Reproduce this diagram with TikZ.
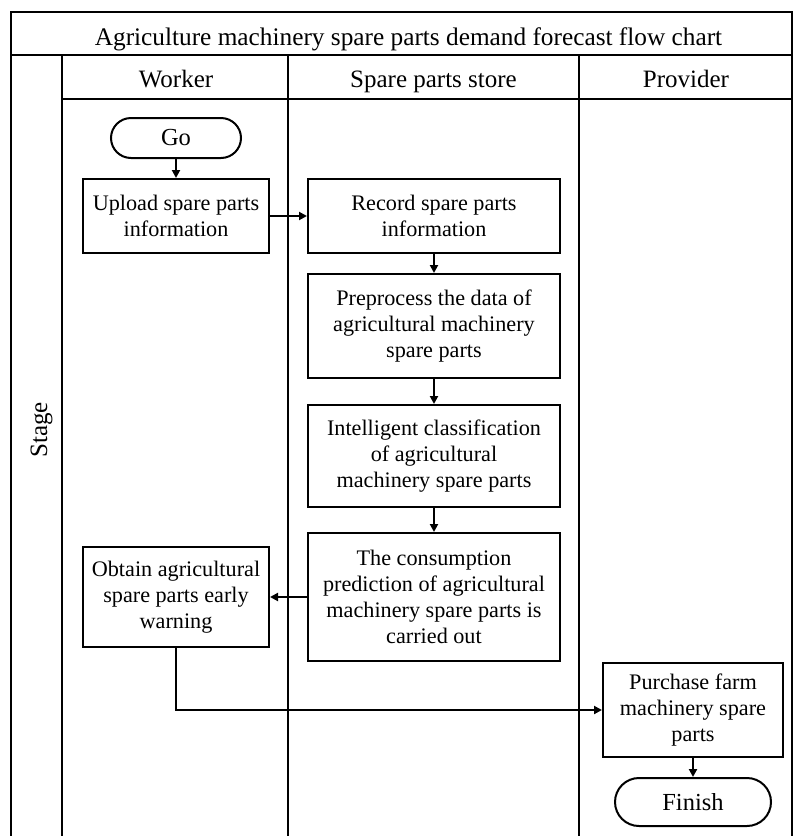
\documentclass[tikz,border=0pt]{standalone}
\usepackage{fontspec}
\setmainfont{Liberation Serif}
\usetikzlibrary{arrows.meta}
\tikzset{
  lane/.style={line width=2pt},
  procbox/.style={draw, line width=2pt, rectangle, inner sep=0pt, align=center,
    font=\fontsize{22.2}{26}\selectfont},
  termbox/.style={procbox, font=\fontsize{24.5}{28}\selectfont},
  flow/.style={line width=2pt, -{Triangle[length=8pt,width=8pt]}},
  headtext/.style={font=\fontsize{25}{29}\selectfont, inner sep=0pt, anchor=base}
}
\begin{document}
\begin{tikzpicture}[x=1pt,y=-1pt]
\useasboundingbox (0,0) rectangle (794,836);
% swimlane frame
\draw[lane] (11,836) -- (11,12) -- (792,12) -- (792,836);
\draw[lane] (11,55) -- (792,55);
\draw[lane] (62,55) -- (62,836);
\draw[lane] (62,99) -- (792,99);
\draw[lane] (288,55) -- (288,836);
\draw[lane] (579,55) -- (579,836);
% headings
\node[headtext, font=\fontsize{25.3}{29}\selectfont] (title) at (408.5,45) {Agriculture machinery spare parts demand forecast flow chart};
\node[headtext] (hw) at (176,87) {Worker};
\node[headtext] (hs) at (433.5,87) {Spare parts store};
\node[headtext] (hp) at (686,87) {Provider};
\node[headtext, rotate=90] (stage) at (47,430) {Stage};
% flow nodes
\node[termbox, minimum width=130pt, minimum height=40pt, rounded corners=20pt] (go) at (176,138) {Go};
\node[procbox, minimum width=186pt, minimum height=74pt] (upload) at (176,216) {Upload spare parts\\information};
\node[procbox, minimum width=252pt, minimum height=74pt] (record) at (434,216) {Record spare parts\\information};
\node[procbox, minimum width=252pt, minimum height=104pt] (prep) at (434,326) {Preprocess the data of\\agricultural machinery\\spare parts};
\node[procbox, minimum width=252pt, minimum height=102pt] (classify) at (434,456) {Intelligent classification\\of agricultural\\machinery spare parts};
\node[procbox, minimum width=252pt, minimum height=128pt] (predict) at (434,597) {The consumption\\prediction of agricultural\\machinery spare parts is\\carried out};
\node[procbox, minimum width=186pt, minimum height=100pt] (warn) at (176,597) {Obtain agricultural\\spare parts early\\warning};
\node[procbox, minimum width=180pt, minimum height=94pt] (buy) at (693,710) {Purchase farm\\machinery spare\\parts};
\node[termbox, minimum width=156pt, minimum height=48pt, rounded corners=24pt] (finish) at (693,802) {Finish};
% connectors
\draw[flow] (go) -- (upload);
\draw[flow] (upload) -- (record);
\draw[flow] (record) -- (prep);
\draw[flow] (prep) -- (classify);
\draw[flow] (classify) -- (predict);
\draw[flow] (predict) -- (warn);
\draw[flow] (warn.south) |- (buy.west);
\draw[flow] (buy) -- (finish);
\end{tikzpicture}
\end{document}
